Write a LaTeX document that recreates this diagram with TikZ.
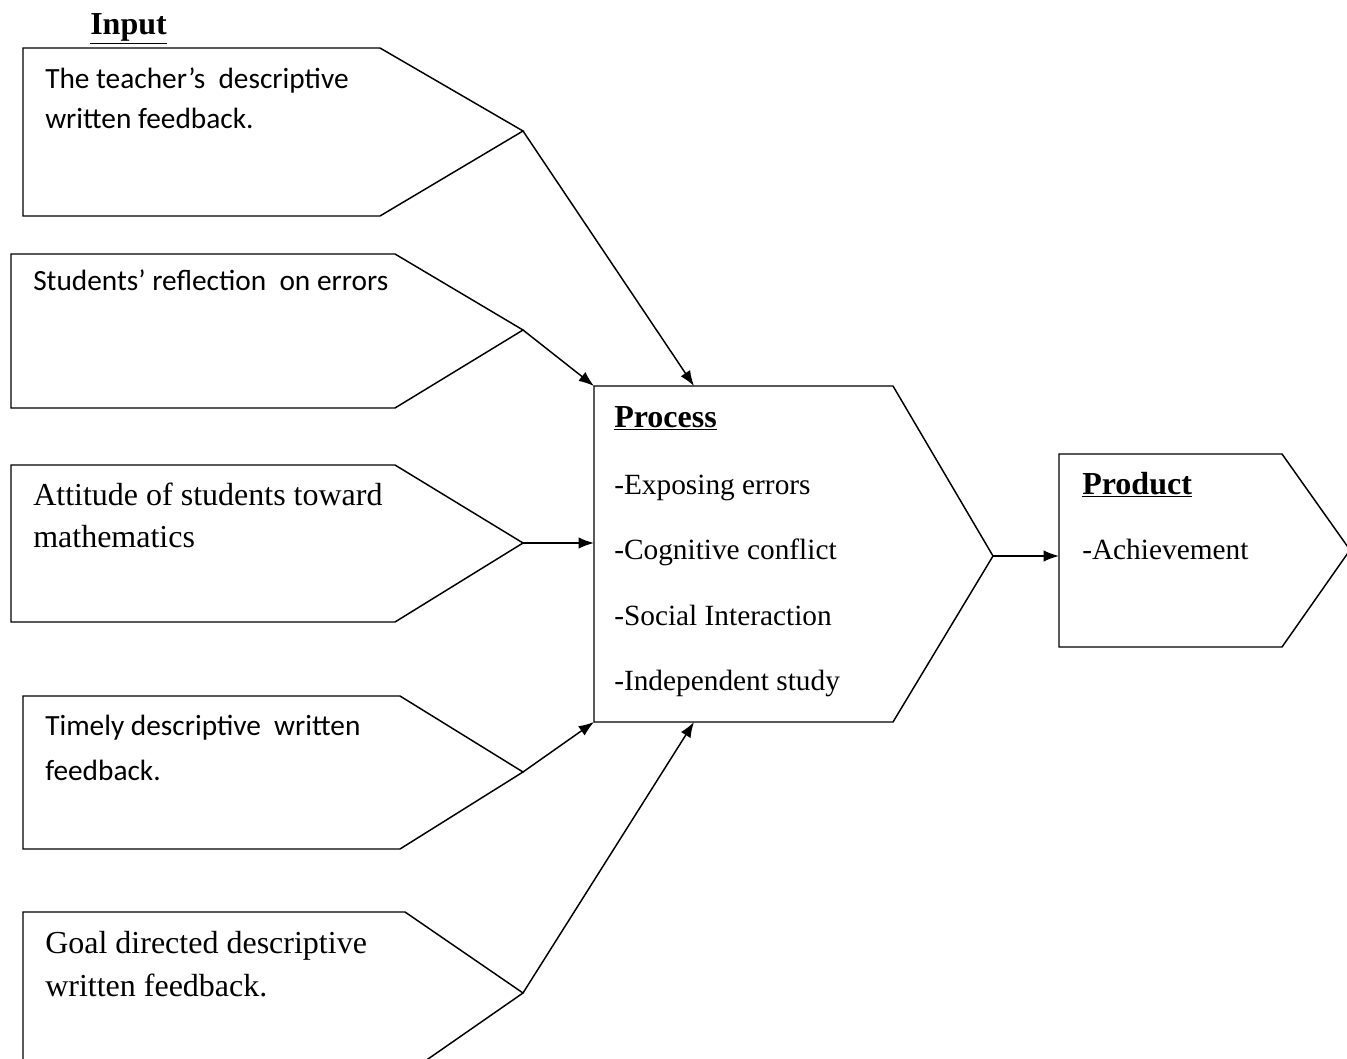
\documentclass[tikz,border=0pt]{standalone}
\usepackage{fontspec}
\setmainfont{Liberation Serif}
\newfontfamily\calfont{Carlito}
\usetikzlibrary{arrows.meta}
\tikzset{
  shapeline/.style={draw=black,line width=1.1pt,line join=miter},
  conn/.style={draw=black,line width=1.1pt,-{Latex[length=11.5pt,width=8.5pt]}},
  caltext/.style={anchor=base west,inner sep=0pt,font=\calfont\fontsize{22}{26}\selectfont},
  sertext/.style={anchor=base west,inner sep=0pt,font=\fontsize{24}{28}\selectfont},
  proctext/.style={anchor=base west,inner sep=0pt,font=\fontsize{22}{26}\selectfont},
  headtext/.style={anchor=base west,inner sep=0pt,font=\bfseries\fontsize{24}{28}\selectfont},
}
\begin{document}
\begin{tikzpicture}[x=0.75pt,y=-0.75pt]
\useasboundingbox (0,0) rectangle (1347,1059);
\clip (0,0) rectangle (1347,1059);
% input shapes
\draw[shapeline] (23,48) -- (380,48) -- (523,131) coordinate (t1) -- (380,216) -- (23,216) -- cycle;
\draw[shapeline] (11,254) -- (395,254) -- (523,330) coordinate (t2) -- (395,408) -- (11,408) -- cycle;
\draw[shapeline] (11,465) -- (395,465) -- (523,543) coordinate (t3) -- (395,622) -- (11,622) -- cycle;
\draw[shapeline] (23,696) -- (400,696) -- (523,772) coordinate (t4) -- (400,849) -- (23,849) -- cycle;
\draw[shapeline] (23,912) -- (405,912) -- (523,993) coordinate (t5) -- (405,1075) -- (23,1075) -- cycle;
% process
\draw[shapeline] (594,386) coordinate (pTL) -- (893,386) -- (993,556) coordinate (pT) -- (893,722) -- (594,722) coordinate (pBL) -- cycle;
\coordinate (pTop) at (694,386);
\coordinate (pBot) at (694,722);
\coordinate (pLeft) at (594,543);
% product
\draw[shapeline] (1059,454) -- (1282,454) -- (1350,550) -- (1282,647) -- (1059,647) -- cycle;
\coordinate (qL) at (1059,556);
% texts
\node[headtext] (inp) at (90,35) {\underline{Input}};
\node[caltext] (a1) at (45,89) {The teacher’s\ \ descriptive};
\node[caltext] (a2) at (45,129) {written feedback.};
\node[caltext] (b1) at (33,291) {Students’ reflection\ \ on errors};
\node[sertext] (c1) at (33,505) {Attitude of students toward};
\node[sertext] (c2) at (33,547) {mathematics};
\node[caltext] (d1) at (45,735) {Timely descriptive\ \ written};
\node[caltext] (d2) at (45,780) {feedback.};
\node[sertext] (e1) at (45,953) {Goal directed descriptive};
\node[sertext] (e2) at (45,996) {written feedback.};
\node[headtext] (ph) at (614,427) {\underline{Process}};
\node[proctext] (p1) at (614,494) {-Exposing errors};
\node[proctext] (p2) at (614,559) {-Cognitive conflict};
\node[proctext] (p3) at (614,625) {-Social Interaction};
\node[proctext] (p4) at (614,690) {-Independent study};
\node[headtext] (qh) at (1082,494) {\underline{Product}};
\node[proctext] (q1) at (1082,559) {-Achievement};
% connectors
\draw[conn] (t1) -- (pTop);
\draw[conn] (t2) -- (pTL);
\draw[conn] (t3) -- (pLeft);
\draw[conn] (t4) -- (pBL);
\draw[conn] (t5) -- (pBot);
\draw[conn] (pT) -- (qL);
\end{tikzpicture}
\end{document}
